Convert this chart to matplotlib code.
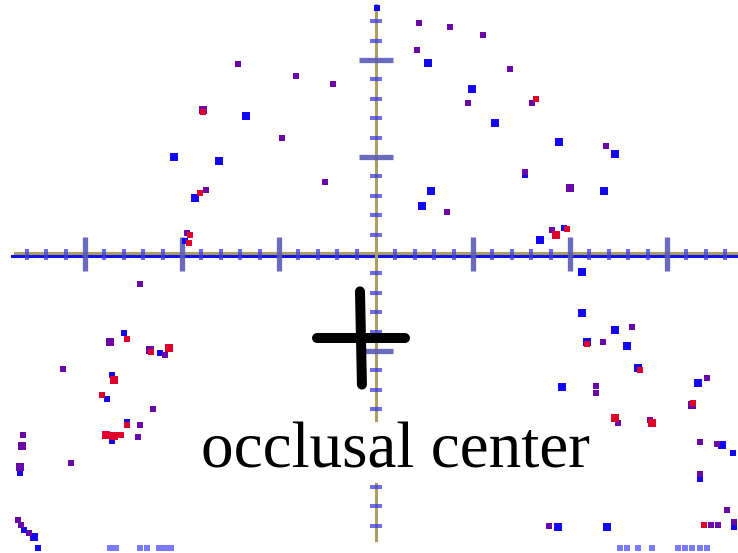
import matplotlib
matplotlib.use("Agg")
import matplotlib.pyplot as plt
import numpy as np

# contact marks in mm from the reference axes, grouped by intensity
# area: 1 = small contact, 2 = large contact
faint_x = [-27.42, -26.80, -24.33, -23.61, -22.37, -21.75, -21.13,
           25.15, 25.88, 27.01, 28.45, 31.13, 31.86, 32.58, 33.40, 34.12]
faint_y = [-30.31] * 16

blue_x = [0.1, 5.36, 9.90, 12.27, 18.87, 24.64, 15.36, 23.51, -13.40, -20.82,
          -16.19, -18.66, 5.67, 4.74, 16.91, 19.38, 21.24, 21.24, -19.69, -25.98,
          -22.27, -27.22, -27.73, -25.67, -27.22, -36.70, -36.29, -35.26, -34.85, 24.64,
          21.75, 25.88, 27.01, 19.18, 33.20, 35.67, 36.80, 33.40, 36.91, 18.76,
          23.81]
blue_y = [25.4, 19.69, 17.01, 13.51, 11.55, 10.31, 8.14, 6.49, 14.23, 10.0,
          9.59, 5.77, 6.49, 4.95, 1.44, 2.68, -1.86, -6.08, 1.34, -8.14,
          -10.21, -12.47, -14.95, -17.32, -19.28, -22.58, -28.45, -29.18, -30.31, -7.84,
          -9.07, -9.48, -11.75, -13.71, -13.30, -19.69, -20.52, -23.20, -28.14, -28.14,
          -28.14]
blue_area = [1, 2, 2, 2, 2, 2, 1, 2, 2, 2,
             2, 2, 2, 2, 2, 1, 2, 2, 1, 1,
             1, 1, 1, 1, 1, 1, 1, 2, 1, 2,
             2, 2, 2, 2, 2, 2, 1, 1, 1, 2,
             2]

purple_x = [4.43, 7.63, 4.23, -8.25, -4.43, 11.03, 13.81, 9.48, 16.08, 23.71,
            15.36, 20.0, -14.23, -17.84, -9.69, -17.53, -5.26, 7.32, 18.14, -19.48,
            -24.33, -27.42, -23.30, -21.75, -32.27, -22.99, -24.33, -24.54, -36.39, -36.49,
            -31.44, -36.70, -36.91, -36.60, -35.77, 26.39, 23.40, 22.68, 22.68, 34.12,
            32.58, 24.95, 28.25, 33.40, 35.15, 33.40, 36.19, 36.91, 34.54, 35.26,
            17.84]
purple_y = [23.81, 23.40, 21.03, 18.35, 17.53, 22.58, 19.07, 15.57, 15.57, 11.13,
            8.45, 6.80, 19.59, 14.85, 11.96, 6.60, 7.42, 4.33, 2.47, 2.16,
            -3.09, -9.07, -9.90, -10.41, -11.86, -15.98, -17.63, -18.87, -18.66, -19.79,
            -21.55, -21.96, -27.42, -27.94, -28.76, -7.53, -9.07, -13.61, -14.33, -12.78,
            -15.57, -17.42, -17.11, -19.38, -19.59, -22.68, -26.39, -27.63, -27.94, -27.94,
            -28.04]
purple_area = [1, 1, 1, 1, 1, 1, 1, 1, 1, 1,
               1, 2, 1, 2, 1, 1, 1, 1, 1, 1,
               1, 2, 2, 1, 1, 1, 1, 1, 1, 2,
               1, 2, 1, 1, 1, 1, 1, 1, 1, 1,
               2, 1, 1, 1, 1, 1, 1, 1, 1, 1,
               1]

red_x = [16.49, -17.84, -18.14, 18.56, 19.69, -19.18, -19.28, -25.67, -23.20, -21.34,
         -27.01, -28.25, -25.67, -27.84, -27.01, -26.29, 21.75, 27.22, 32.68, 24.64,
         28.45, 33.81]
red_y = [15.98, 14.64, 6.29, 1.96, 2.58, 1.96, 1.13, -8.76, -10.10, -9.69,
         -12.99, -14.54, -17.63, -18.66, -18.76, -18.66, -9.28, -11.96, -15.36, -16.91,
         -17.42, -27.94]
red_area = [1, 1, 1, 2, 1, 1, 1, 1, 1, 2,
            2, 1, 1, 2, 2, 1, 1, 1, 1, 2,
            2, 1]

center_x, center_y = -1.55, -8.66
label = "occlusal center"

minor_ticks_x = np.arange(-36, 37, 2)
minor_ticks_y = np.arange(-28, 25, 2)
major_x = [-30, -20, -10, 10, 20, 30]
major_y = [-20, -10, 10, 20]

px = 9.7  # pixels per mm

fig = plt.figure(figsize=(7.38, 5.53), dpi=100)
ax = fig.add_axes([0, 0, 1, 1])
ax.set_xlim(-376 / px, 362 / px)
ax.set_ylim(-299 / px, 254 / px)
ax.axis("off")

olive = "#a8a060"
tick_c = "#5a5ab8"

# axes lines
ax.plot([-37.5, 40], [-0.21, -0.21], color="#1010f0", lw=2.2, zorder=1)
ax.plot([-37.2, 40], [0.1, 0.1], color=olive, lw=2.2, zorder=2)
ax.plot([0, 0], [25.7, -29.5], color=olive, lw=2.2, zorder=2)

# ticks along the horizontal axis
mx = [t for t in minor_ticks_x if t != 0 and t not in major_x]
ax.vlines(mx, -0.65, 0.55, color="#3c3ce0", lw=2.9, alpha=0.75, zorder=3)
ax.vlines(major_x, -1.75, 1.75, color=tick_c, lw=3.8, alpha=0.9, zorder=3)

# ticks along the vertical axis
my = [t for t in minor_ticks_y if t != 0 and t not in major_y]
ax.hlines(my, -0.65, 0.6, color="#3c3ce0", lw=2.9, alpha=0.75, zorder=3)
ax.hlines(major_y, -1.75, 1.75, color=tick_c, lw=3.8, alpha=0.9, zorder=3)


def sz(area):
    side = np.where(np.array(area) == 2, 8.0, 6.0)
    return (side * 0.72) ** 2


ax.scatter(faint_x, faint_y, s=sz([1] * len(faint_x)), marker="s",
           color="#7a7aff", linewidths=0, zorder=4)
ax.scatter(blue_x, blue_y, s=sz(blue_area), marker="s",
           color="#1408f0", linewidths=0, zorder=4)
ax.scatter(purple_x, purple_y, s=sz(purple_area), marker="s",
           color="#6a08a8", linewidths=0, zorder=5)
ax.scatter(red_x, red_y, s=sz(red_area), marker="s",
           color="#e0002c", linewidths=0, zorder=6)

# occlusal center cross
ax.plot([center_x - 4.5, center_x + 4.5], [center_y, center_y],
        color="black", lw=7.2, solid_capstyle="round", zorder=8)
ax.plot([center_x - 0.1, center_x + 0.1], [center_y + 4.8, center_y - 4.8],
        color="black", lw=7.2, solid_capstyle="round", zorder=8)

ax.text(2.06, -22.06, label, ha="center", va="baseline",
        fontsize=47, family="Liberation Serif", color="black", zorder=9,
        bbox=dict(facecolor="white", edgecolor="none", pad=0.5))

fig.savefig("out.png", dpi=100)
